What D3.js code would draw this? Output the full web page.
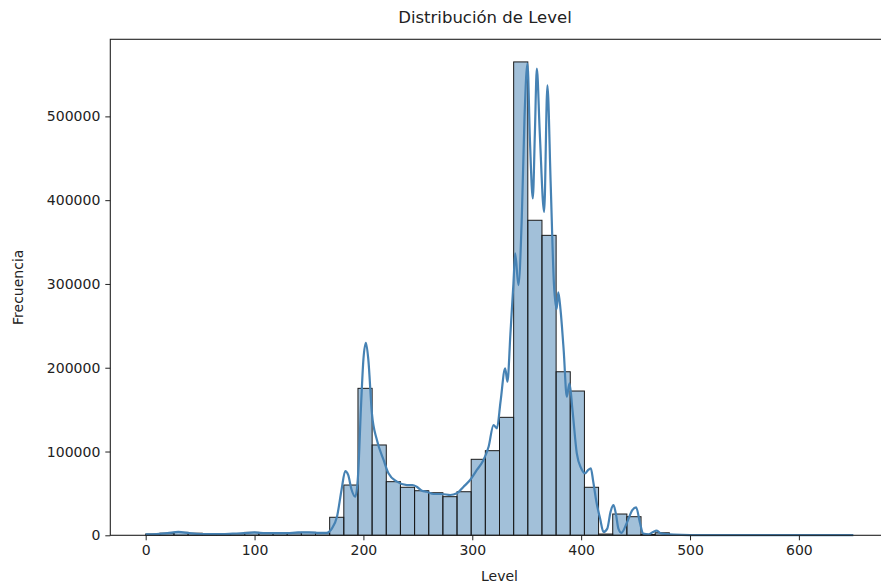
<!DOCTYPE html>
<html>
<head>
<meta charset="utf-8">
<script src="https://cdn.jsdelivr.net/npm/d3@7"></script>
<style>
  html, body { margin: 0; padding: 0; background: #fff; }
  svg { display: block; font-family: "DejaVu Sans", sans-serif; }
</style>
</head>
<body>
<svg id="chart" width="881" height="586"></svg>
<script>
// Histogram of "Level": 50 bins of width 13 from 0 to 650
const binStart = 0;
const binWidth = 13;
const binCounts = [
  1500, 2500, 3500, 2500, 1500, 1500, 2000, 3500, 2500, 2500,
  3000, 3500, 3000, 21500, 60000, 175400, 107800, 64000, 57300, 53200,
  50800, 46100, 52000, 90700, 101000, 140800, 565000, 376000, 358000, 195200,
  172200, 57300, 1500, 25400, 22200, 1000, 3000, 300, 0, 0,
  0, 0, 0, 0, 0, 0, 0, 0, 0, 0
];

// Kernel density curve, expressed in counts
const kdeLevel = [
  0, 10, 20, 30, 40, 50, 60, 70, 80, 90,
  100, 110, 120, 130, 140, 150, 160, 166, 171, 175.7,
  180, 183.3, 186, 189, 192.5, 195, 198, 200, 202.3, 204.5,
  207.8, 212.4, 218.5, 223, 230.8, 240, 245, 249, 253.7, 258,
  264.4, 272, 279.7, 285.8, 292, 298, 304.2, 310.3, 315, 319.5,
  322.6, 326, 330.2, 332.3, 335, 337.8, 339.4, 342.4, 345.5, 348,
  350.7, 353, 355.6, 357.5, 359.3, 362, 366, 369, 372, 375,
  377.5, 379, 381, 384, 386.8, 389.3, 392, 396, 400, 403.7,
  406.5, 408.9, 411, 414, 417.4, 420.5, 424, 427, 429.7, 432,
  434.2, 437, 442, 447, 450.5, 454, 457, 462, 466, 469.5,
  473, 478, 485, 500, 550, 600, 650
];
const kdeCount = [
  1000, 1500, 2500, 4000, 2500, 1500, 1500, 1500, 2000, 2500,
  3500, 2500, 2500, 2500, 3500, 3500, 3000, 3000, 8000, 22000,
  55000, 76700, 72000, 55000, 46000, 70000, 160000, 210000, 229800, 210000,
  145600, 113700, 89900, 74000, 64000, 60000, 60000, 58000, 53200, 52000,
  49300, 49300, 48100, 50100, 58000, 66000, 78000, 89900, 105700, 131600,
  127700, 160000, 199300, 183300, 240000, 300700, 336500, 298700, 380000, 500000,
  563000, 470000, 402000, 480000, 557000, 480000, 386000, 537000, 420000, 300000,
  270000, 290000, 270000, 220000, 165400, 181400, 150000, 97800, 80000, 74000,
  78000, 80000, 65000, 40000, 20000, 4000, 8000, 28000, 36000, 25000,
  8000, 3000, 15000, 30000, 33400, 15000, 2000, 1000, 4000, 5500,
  2500, 1500, 800, 300, 200, 200, 200
];

const xTicks = [0, 100, 200, 300, 400, 500, 600];
const yTicks = [0, 100000, 200000, 300000, 400000, 500000];

const titleText = "Distribución de Level";
const xLabelText = "Level";
const yLabelText = "Frecuencia";

// Layout
const plot = { left: 110.3, top: 39.3, right: 888.7, bottom: 535.3 };
const barFill = "rgba(70,130,180,0.5)";
const lineColor = "#4682b4";
const ink = "#222";

const svg = d3.select("#chart");

const x = d3.scaleLinear().domain([-32.5, 682.5]).range([plot.left, plot.right]);
const y = d3.scaleLinear().domain([0, 592000]).range([plot.bottom, plot.top]);

const bins = binCounts.map((c, i) => ({
  x0: binStart + i * binWidth,
  x1: binStart + (i + 1) * binWidth,
  count: c
}));

// Bars
svg.append("g")
  .selectAll("rect")
  .data(bins)
  .join("rect")
  .attr("x", d => x(d.x0))
  .attr("y", d => y(d.count))
  .attr("width", d => x(d.x1) - x(d.x0))
  .attr("height", d => y(0) - y(d.count))
  .attr("fill", barFill)
  .attr("stroke", "#1a1a1a")
  .attr("stroke-width", 1);

// Density line
const kde = kdeLevel.map((v, i) => [v, kdeCount[i]]);
svg.append("path")
  .datum(kde)
  .attr("fill", "none")
  .attr("stroke", lineColor)
  .attr("stroke-width", 2.2)
  .attr("stroke-linejoin", "round")
  .attr("d", d3.line()
    .x(d => x(d[0]))
    .y(d => y(d[1]))
    .curve(d3.curveMonotoneX));

// Axes
const xAxis = svg.append("g")
  .attr("transform", `translate(0,${plot.bottom})`)
  .call(d3.axisBottom(x).tickValues(xTicks).tickFormat(d3.format("d")).tickSize(5).tickPadding(5));
const yAxis = svg.append("g")
  .attr("transform", `translate(${plot.left},0)`)
  .call(d3.axisLeft(y).tickValues(yTicks).tickFormat(d3.format("d")).tickSize(5).tickPadding(5));

[xAxis, yAxis].forEach(g => {
  g.select(".domain").remove();
  g.selectAll(".tick line").attr("stroke", ink).attr("stroke-width", 1);
  g.selectAll(".tick text").attr("fill", ink).style("font-size", "14px").style("font-family", "DejaVu Sans");
});

// Frame
svg.append("rect")
  .attr("x", plot.left)
  .attr("y", plot.top)
  .attr("width", plot.right - plot.left)
  .attr("height", plot.bottom - plot.top)
  .attr("fill", "none")
  .attr("stroke", ink)
  .attr("stroke-width", 1.1);

// Titles
svg.append("text")
  .attr("x", 485)
  .attr("y", 23)
  .attr("text-anchor", "middle")
  .attr("fill", ink)
  .style("font-size", "16.5px")
  .text(titleText);

svg.append("text")
  .attr("x", (plot.left + plot.right) / 2)
  .attr("y", 581)
  .attr("text-anchor", "middle")
  .attr("fill", ink)
  .style("font-size", "14px")
  .text(xLabelText);

svg.append("text")
  .attr("transform", `translate(23,${(plot.top + plot.bottom) / 2}) rotate(-90)`)
  .attr("text-anchor", "middle")
  .attr("fill", ink)
  .style("font-size", "14px")
  .text(yLabelText);
</script>
</body>
</html>
